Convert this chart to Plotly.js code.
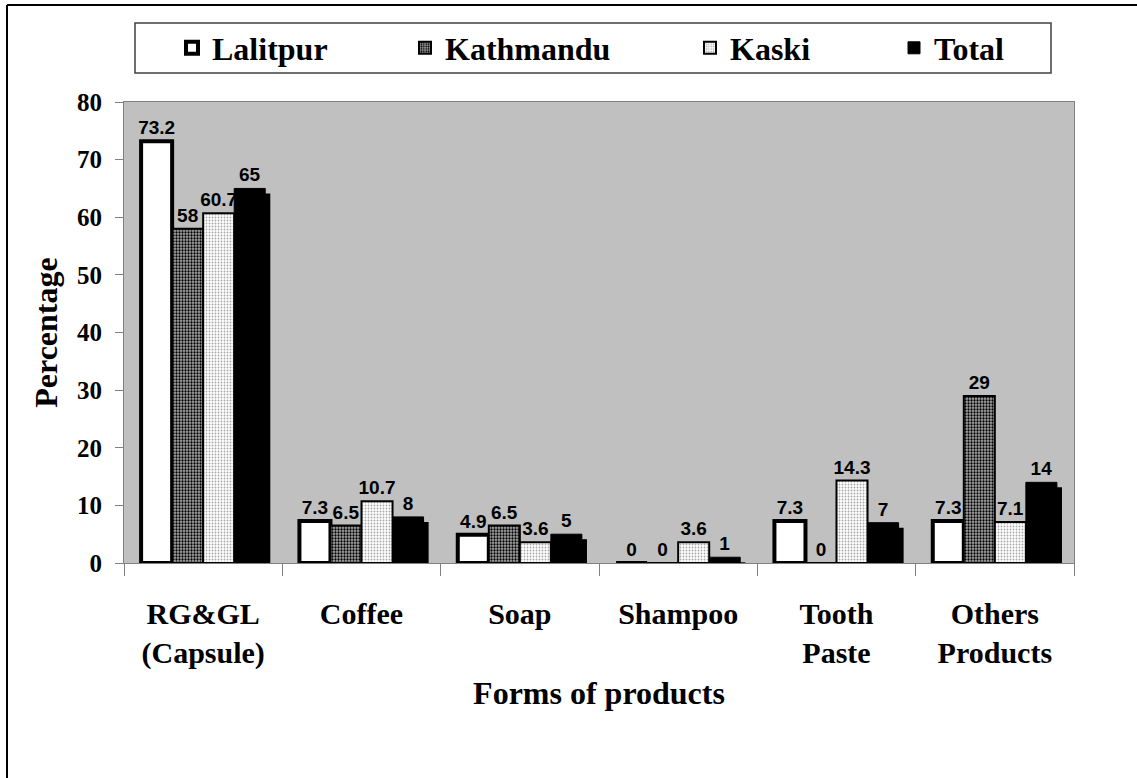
<!DOCTYPE html>
<html>
<head>
<meta charset="utf-8">
<script src="https://cdn.plot.ly/plotly-3.0.1.min.js"></script>
<style>
  html, body { margin: 0; padding: 0; background: #fff; }
  #chart { width: 1137px; height: 778px; }
</style>
</head>
<body>
<div id="chart"></div>
<script>
const products = ['RG&GL<br>(Capsule)', 'Coffee', 'Soap', 'Shampoo', 'Tooth<br>Paste', 'Others<br>Products'];
const lalitpur = [73.2, 7.3, 4.9, 0, 7.3, 7.3];
const kathmandu = [58, 6.5, 6.5, 0, 0, 29];
const kaski = [60.7, 10.7, 3.6, 3.6, 14.3, 7.1];
const total = [65, 8, 5, 1, 7, 14];

const labelFont = { family: '"Liberation Sans", Arial, sans-serif', size: 19, color: '#000', weight: 'bold' };
const serif = '"Liberation Serif", "Times New Roman", serif';

// bar geometry in category units (overlay mode, offsets set by hand)
const barW = 0.196;

function barTrace(name, values, offset, marker, legend) {
    return {
        type: 'bar',
        name: name,
        legend: legend,
        x: products,
        y: values,
        width: barW,
        offset: offset,
        marker: marker,
        text: values.map(v => String(v)),
        textposition: 'outside',
        textfont: labelFont,
        constraintext: 'none',
        cliponaxis: false,
        hoverinfo: 'x+y+name'
    };
}

const traces = [
    barTrace('Lalitpur', lalitpur, -2 * barW, {
        color: '#ffffff', line: { color: '#000', width: 4 }
    }, 'legend'),
    barTrace('Kathmandu', kathmandu, -barW, {
        color: '#808080',
        pattern: { shape: '.', fgcolor: '#000', bgcolor: '#a8a8a8', size: 3, solidity: 0.45 },
        line: { color: '#000', width: 2 }
    }, 'legend2'),
    barTrace('Kaski', kaski, 0, {
        color: '#ffffff',
        pattern: { shape: '.', fgcolor: '#a8a8a8', bgcolor: '#ffffff', size: 3, solidity: 0.3 },
        line: { color: '#000', width: 2 }
    }, 'legend3'),
    // drop shadow behind the Total bars
    {
        type: 'bar',
        x: products,
        y: total,
        base: -0.87,
        width: barW,
        offset: barW + 0.032,
        marker: { color: '#000', line: { width: 0 } },
        showlegend: false,
        hoverinfo: 'skip'
    },
    barTrace('Total', total, barW, {
        color: '#000', line: { color: '#000', width: 1 }
    }, 'legend4')
];

// plot area: 124..1074 px wide, 102..563 px tall
const px = v => (v - 124) / 950;
const py = v => (563 - v) / 461;

function legendAt(left) {
    return {
        orientation: 'h',
        x: px(left), xanchor: 'left',
        y: py(48), yanchor: 'middle',
        bgcolor: 'rgba(0,0,0,0)',
        borderwidth: 0,
        font: { family: serif, size: 32, color: '#000', weight: 'bold' }
    };
}

const layout = {
    width: 1137,
    height: 778,
    margin: { l: 124, r: 63, t: 102, b: 215, autoexpand: false },
    paper_bgcolor: '#ffffff',
    plot_bgcolor: '#c0c0c0',
    barmode: 'overlay',
    showlegend: true,
    legend: legendAt(172),
    legend2: legendAt(405),
    legend3: legendAt(690),
    legend4: legendAt(894),
    xaxis: {
        type: 'category',
        tickson: 'boundaries',
        ticks: 'outside',
        ticklen: 12,
        tickcolor: '#808080',
        showline: true,
        linecolor: '#808080',
        linewidth: 1,
        mirror: true,
        showgrid: false,
        ticklabelstandoff: 24,
        tickfont: { family: serif, size: 30, color: '#000', weight: 'bold' },
        title: {
            text: '<b>Forms of products</b>',
            font: { family: serif, size: 32, color: '#000' },
            standoff: 12
        }
    },
    yaxis: {
        range: [0, 80],
        dtick: 10,
        ticks: 'outside',
        ticklen: 8,
        tickcolor: '#808080',
        showline: true,
        linecolor: '#808080',
        linewidth: 1,
        mirror: true,
        showgrid: false,
        zeroline: false,
        ticklabelstandoff: 8,
        tickfont: { family: serif, size: 25, color: '#000', weight: 'bold' },
        title: {
            text: '<b>Percentage</b>',
            font: { family: serif, size: 32, color: '#000' },
            standoff: 9
        }
    },
    shapes: [
        // legend frame
        { type: 'rect', xref: 'paper', yref: 'paper', x0: px(135), x1: px(1051), y0: py(73), y1: py(23),
          line: { color: '#404040', width: 1.5 }, fillcolor: '#ffffff', layer: 'above' },
        // outer figure frame (left and top edges)
        { type: 'line', xref: 'paper', yref: 'paper', x0: px(7), x1: px(7), y0: py(5), y1: py(790),
          line: { color: '#000', width: 2 } },
        { type: 'line', xref: 'paper', yref: 'paper', x0: px(7), x1: px(1150), y0: py(5), y1: py(5),
          line: { color: '#000', width: 2 } }
    ]
};

Plotly.newPlot('chart', traces, layout, { displayModeBar: false, staticPlot: true });
</script>
</body>
</html>
